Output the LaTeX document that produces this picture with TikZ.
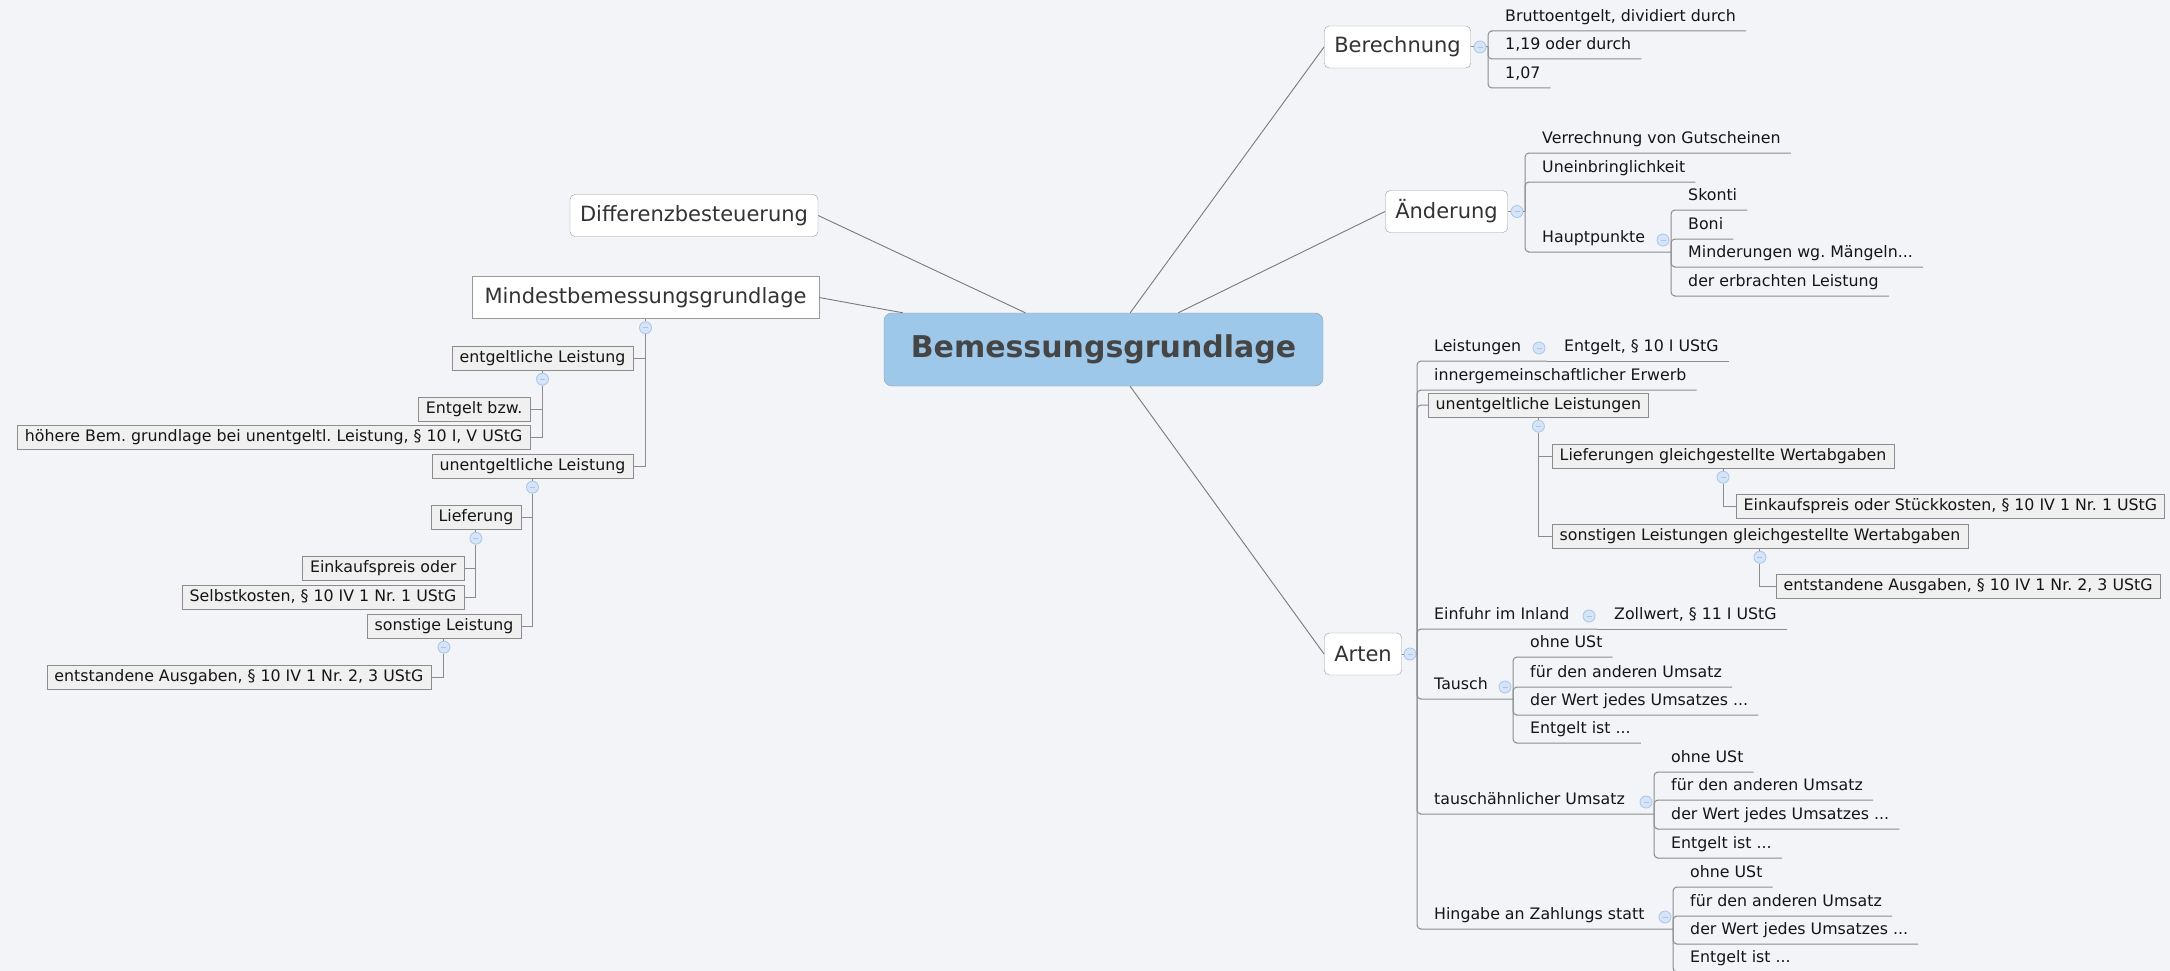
\documentclass[tikz,border=0pt]{standalone}
\usepackage{fontspec}
\setmainfont{DejaVu Sans}
\frenchspacing
\definecolor{bgcol}{HTML}{F3F4F8}
\definecolor{linecol}{HTML}{8C8C8C}
\definecolor{rootline}{HTML}{7A7A7A}
\definecolor{topicline}{HTML}{9A9A9A}
\definecolor{topictext}{HTML}{333333}
\definecolor{boxline}{HTML}{8C8C8C}
\definecolor{boxfill}{HTML}{EFF0EF}
\definecolor{foldfill}{HTML}{D5E5F7}
\definecolor{foldline}{HTML}{A8C6EA}
\definecolor{centralfill}{HTML}{9DC8EA}
\definecolor{centralline}{HTML}{8F9BA6}
\definecolor{centraltext}{HTML}{454545}
\definecolor{leaftext}{HTML}{151515}
\begin{document}
\begin{tikzpicture}[x=1pt,y=-1pt,
    central/.style={draw=centralline, fill=centralfill, rounded corners=8pt, minimum width=439pt, minimum height=73pt, text=centraltext, font=\fontsize{30pt}{36pt}\selectfont\bfseries},
    topic/.style={draw=topicline, fill=white, rounded corners=5pt, inner xsep=10pt, minimum height=42pt, text=topictext, font=\fontsize{21pt}{25pt}\selectfont},
    leaf/.style={anchor=south west, inner xsep=10pt, inner ysep=5pt, text height=12pt, text depth=4pt, text=leaftext, font=\fontsize{15.8pt}{19pt}\selectfont},
    sub/.style={draw=boxline, fill=boxfill, inner xsep=7.5pt, inner ysep=4.5pt, text height=11.5pt, text depth=3.5pt, text=leaftext, font=\fontsize{15.8pt}{19pt}\selectfont},
    fold/.style={circle, draw=foldline, fill=foldfill, minimum size=12pt, inner sep=0pt, line width=0.8pt,
        path picture={\draw[foldline, line width=0.8pt] ([xshift=-2.5pt]path picture bounding box.center) -- ([xshift=2.5pt]path picture bounding box.center);}},
    branch/.style={draw=rootline, line width=0.9pt},
    tree/.style={draw=linecol, line width=1pt, rounded corners=4pt},
    org/.style={draw=linecol, line width=1pt}]
                    \useasboundingbox (0,0) rectangle (2170,971);
                    \fill[bgcol] (0,0) rectangle (2170,971);
                    \node (root) at (1103.5,349.5) [central] {Bemessungsgrundlage};
                    \node (ber) at (1397.5,47) [topic] {Berechnung};
                    \node (aend) at (1446.5,211.5) [topic] {Änderung};
                    \node (arten) at (1363,654) [topic] {Arten};
                    \node (diff) at (694,215.5) [topic] {Differenzbesteuerung};
                    \node (mind) at (645.5,297.5) [topic, sharp corners, minimum width=347pt] {Mindestbemessungsgrundlage};
                    \draw[branch] (root) -- (ber.west);
                    \draw[branch] (root) -- (aend.west);
                    \draw[branch] (root) -- (arten.west);
                    \draw[branch] (root) -- (diff.east);
                    \draw[branch] (root) -- (mind.east);
                    \node (fber) at (1480,47) [fold] {};
                    \coordinate (ber-br) at (1488,47);
                    \node (b1) at (1495,31) [leaf] {Bruttoentgelt, dividiert durch};
                    \node (b2) at (1495,59) [leaf] {1,19 oder durch};
                    \node (b3) at (1495,88) [leaf] {1,07};
                    \draw[org] (ber.east) -- (fber);
                    \draw[org] (fber) -- (ber-br);
                    \draw[tree] (ber-br) |- (b1.south west) -- (b1.south east);
                    \draw[tree] (ber-br) |- (b2.south west) -- (b2.south east);
                    \draw[tree] (ber-br) |- (b3.south west) -- (b3.south east);
                    \node (faend) at (1517,211.5) [fold] {};
                    \coordinate (aend-br) at (1525,211.5);
                    \node (a1) at (1532,153) [leaf] {Verrechnung von Gutscheinen};
                    \node (a2) at (1532,182) [leaf] {Uneinbringlichkeit};
                    \node (a3) at (1532,252) [leaf] {Hauptpunkte};
                    \node (fa3) at (1663,240) [fold] {};
                    \coordinate (a3-br) at (1671,252);
                    \node (h1) at (1678,210) [leaf] {Skonti};
                    \node (h2) at (1678,239) [leaf] {Boni};
                    \node (h3) at (1678,267) [leaf] {Minderungen wg. Mängeln...};
                    \node (h4) at (1678,296) [leaf] {der erbrachten Leistung};
                    \draw[org] (aend.east) -- (faend);
                    \draw[org] (faend) -- (aend-br);
                    \draw[tree] (aend-br) |- (a1.south west) -- (a1.south east);
                    \draw[tree] (aend-br) |- (a2.south west) -- (a2.south east);
                    \draw[tree] (aend-br) |- (a3.south west) -- (a3-br);
                    \draw[tree] (a3-br) |- (h1.south west) -- (h1.south east);
                    \draw[tree] (a3-br) |- (h2.south west) -- (h2.south east);
                    \draw[tree] (a3-br) |- (h3.south west) -- (h3.south east);
                    \draw[tree] (a3-br) |- (h4.south west) -- (h4.south east);
                    \node (farten) at (1410,654) [fold] {};
                    \coordinate (arten-br) at (1417,654);
                    \draw[org] (arten.east) -- (farten);
                    \draw[org] (farten) -- (arten-br);
                    \node (l1) at (1424,361) [leaf] {Leistungen};
                    \node (fl1) at (1539,348) [fold] {};
                    \coordinate (l1-br) at (1547,361);
                    \node (l1a) at (1554,361) [leaf] {Entgelt, § 10 I UStG};
                    \draw[tree] (arten-br) |- (l1.south west) -- (l1-br);
                    \draw[tree] (l1-br) -- (l1a.south east);
                    \node (l2) at (1424,390) [leaf] {innergemeinschaftlicher Erwerb};
                    \draw[tree] (arten-br) |- (l2.south west) -- (l2.south east);
                    \node (l3) at (1428,405) [sub, anchor=west] {unentgeltliche Leistungen};
                    \node (fl3) at ([yshift=-9pt]l3.south) [fold] {};
                    \node (l3a) at (1552,456) [sub, anchor=west] {Lieferungen gleichgestellte Wertabgaben};
                    \node (fl3a) at ([yshift=-9pt]l3a.south) [fold] {};
                    \node (l3a1) at (1736,506.5) [sub, anchor=west] {Einkaufspreis oder Stückkosten, § 10 IV 1 Nr. 1 UStG};
                    \node (l3b) at (1552,536) [sub, anchor=west] {sonstigen Leistungen gleichgestellte Wertabgaben};
                    \node (fl3b) at ([yshift=-9pt]l3b.south) [fold] {};
                    \node (l3b1) at (1776,586.5) [sub, anchor=west] {entstandene Ausgaben, § 10 IV 1 Nr. 2, 3 UStG};
                    \draw[tree] (arten-br) |- (l3.west);
                    \draw[org] (l3.south) -- (fl3);
                    \draw[org] (fl3) |- (l3a.west);
                    \draw[org] (fl3) |- (l3b.west);
                    \draw[org] (l3a.south) -- (fl3a);
                    \draw[org] (fl3a) |- (l3a1.west);
                    \draw[org] (l3b.south) -- (fl3b);
                    \draw[org] (fl3b) |- (l3b1.west);
                    \node (l4) at (1424,629) [leaf] {Einfuhr im Inland};
                    \node (fl4) at (1589,616) [fold] {};
                    \coordinate (l4-br) at (1597,629);
                    \node (l4a) at (1604,629) [leaf] {Zollwert, § 11 I UStG};
                    \draw[tree] (arten-br) |- (l4.south west) -- (l4-br);
                    \draw[tree] (l4-br) -- (l4a.south east);
                    \node (l5) at (1424,699) [leaf] {Tausch};
                    \node (fl5) at (1505,687) [fold] {};
                    \coordinate (l5-br) at (1513,699);
                    \node (t1) at (1520,657) [leaf] {ohne USt};
                    \node (t2) at (1520,687) [leaf] {für den anderen Umsatz};
                    \node (t3) at (1520,715) [leaf] {der Wert jedes Umsatzes ...};
                    \node (t4) at (1520,743) [leaf] {Entgelt ist ...};
                    \draw[tree] (arten-br) |- (l5.south west) -- (l5-br);
                    \draw[tree] (l5-br) |- (t1.south west) -- (t1.south east);
                    \draw[tree] (l5-br) |- (t2.south west) -- (t2.south east);
                    \draw[tree] (l5-br) |- (t3.south west) -- (t3.south east);
                    \draw[tree] (l5-br) |- (t4.south west) -- (t4.south east);
                    \node (l6) at (1424,814) [leaf] {tauschähnlicher Umsatz};
                    \node (fl6) at (1646,802) [fold] {};
                    \coordinate (l6-br) at (1654,814);
                    \node (u1) at (1661,772) [leaf] {ohne USt};
                    \node (u2) at (1661,800) [leaf] {für den anderen Umsatz};
                    \node (u3) at (1661,829) [leaf] {der Wert jedes Umsatzes ...};
                    \node (u4) at (1661,858) [leaf] {Entgelt ist ...};
                    \draw[tree] (arten-br) |- (l6.south west) -- (l6-br);
                    \draw[tree] (l6-br) |- (u1.south west) -- (u1.south east);
                    \draw[tree] (l6-br) |- (u2.south west) -- (u2.south east);
                    \draw[tree] (l6-br) |- (u3.south west) -- (u3.south east);
                    \draw[tree] (l6-br) |- (u4.south west) -- (u4.south east);
                    \node (l7) at (1424,929) [leaf] {Hingabe an Zahlungs statt};
                    \node (fl7) at (1665,917) [fold] {};
                    \coordinate (l7-br) at (1673,929);
                    \node (v1) at (1680,887) [leaf] {ohne USt};
                    \node (v2) at (1680,916) [leaf] {für den anderen Umsatz};
                    \node (v3) at (1680,944) [leaf] {der Wert jedes Umsatzes ...};
                    \node (v4) at (1680,972) [leaf] {Entgelt ist ...};
                    \draw[tree] (arten-br) |- (l7.south west) -- (l7-br);
                    \draw[tree] (l7-br) |- (v1.south west) -- (v1.south east);
                    \draw[tree] (l7-br) |- (v2.south west) -- (v2.south east);
                    \draw[tree] (l7-br) |- (v3.south west) -- (v3.south east);
                    \draw[tree] (l7-br) |- (v4.south west) -- (v4.south east);
                    \node (fmind) at ([yshift=-9pt]mind.south) [fold] {};
                    \node (m1) at (633,358) [sub, anchor=east] {entgeltliche Leistung};
                    \node (fm1) at ([yshift=-9pt]m1.south) [fold] {};
                    \node (m1a) at (530,409) [sub, anchor=east] {Entgelt bzw.};
                    \node (m1b) at (530,437.5) [sub, anchor=east] {höhere Bem. grundlage bei unentgeltl. Leistung, § 10 I, V UStG};
                    \node (m2) at (633,466) [sub, anchor=east] {unentgeltliche Leistung};
                    \node (fm2) at ([yshift=-9pt]m2.south) [fold] {};
                    \node (m2a) at (521,517) [sub, anchor=east] {Lieferung};
                    \node (fm2a) at ([yshift=-9pt]m2a.south) [fold] {};
                    \node (m2a1) at (464,568.5) [sub, anchor=east] {Einkaufspreis oder};
                    \node (m2a2) at (464,597) [sub, anchor=east] {Selbstkosten, § 10 IV 1 Nr. 1 UStG};
                    \node (m2b) at (521,626) [sub, anchor=east] {sonstige Leistung};
                    \node (fm2b) at ([yshift=-9pt]m2b.south) [fold] {};
                    \node (m2b1) at (431,677) [sub, anchor=east] {entstandene Ausgaben, § 10 IV 1 Nr. 2, 3 UStG};
                    \draw[org] (mind.south) -- (fmind);
                    \draw[org] (fmind) |- (m1.east);
                    \draw[org] (fmind) |- (m2.east);
                    \draw[org] (m1.south) -- (fm1);
                    \draw[org] (fm1) |- (m1a.east);
                    \draw[org] (fm1) |- (m1b.east);
                    \draw[org] (m2.south) -- (fm2);
                    \draw[org] (fm2) |- (m2a.east);
                    \draw[org] (fm2) |- (m2b.east);
                    \draw[org] (m2a.south) -- (fm2a);
                    \draw[org] (fm2a) |- (m2a1.east);
                    \draw[org] (fm2a) |- (m2a2.east);
                    \draw[org] (m2b.south) -- (fm2b);
                    \draw[org] (fm2b) |- (m2b1.east);
                \end{tikzpicture}
\end{document}
